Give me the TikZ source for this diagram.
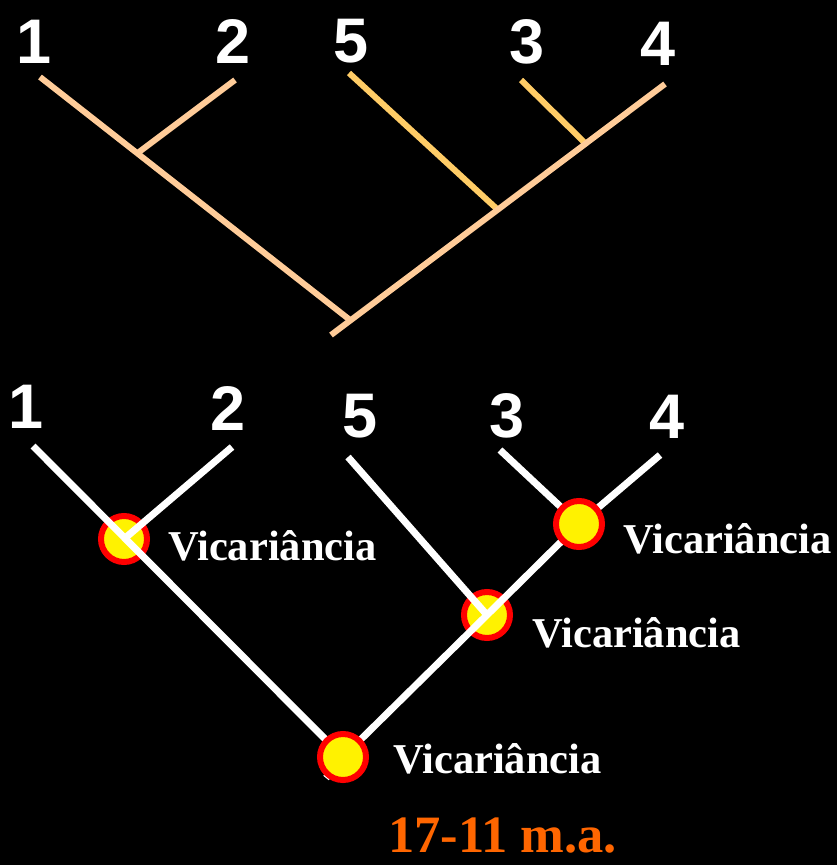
\documentclass[tikz,border=0pt]{standalone}
\usepackage{fontspec}
\setmainfont{Liberation Serif}
\newfontfamily\digitfont{Liberation Sans}
\definecolor{peach}{HTML}{FFCC99}
\definecolor{amber}{HTML}{FFCC66}
\definecolor{rust}{HTML}{FF6600}
\tikzset{
    branch/.style={draw, line width=6pt, peach}, % ramos da árvore de cima
    twig/.style={draw, line width=6pt, amber},
    wbranch/.style={draw, line width=7pt, white}, % ramos da árvore de baixo
    taxon/.style={anchor=base, inner sep=0pt, text=white, font=\digitfont\bfseries\fontsize{63}{63}\selectfont},
    event/.style={circle, draw=red, fill=yellow, line width=6pt, minimum size=46pt, inner sep=0pt},
    vic/.style={anchor=base west, inner sep=0pt, text=white, font=\bfseries\fontsize{42.5}{42.5}\selectfont}
}

\begin{document}
\begin{tikzpicture}[x=1pt, y=-1pt]
	\fill[black] (0,0) rectangle (837,865);
	\useasboundingbox (0,0) rectangle (837,865);

	% árvore de cima
	\node (a1) [taxon] at (34,63) {1};
	\node (a2) [taxon] at (233,63) {2};
	\node (a5) [taxon] at (351,62) {5};
	\node (a3) [taxon] at (527,63) {3};
	\node (a4) [taxon] at (658,65) {4};

	\coordinate (p1) at (40,77);
	\coordinate (p2) at (235,80);
	\coordinate (p5) at (349,73);
	\coordinate (p3) at (521,80);
	\coordinate (p4) at (665,84);
	\coordinate (j12) at (139,152);
	\coordinate (j34) at (585,143);
	\coordinate (j5) at (497,209);
	\coordinate (jr) at (350,320);
	\coordinate (pr) at (331,335);

	\draw[twig] (p5) -- (j5);
	\draw[twig] (p3) -- (j34);
	\draw[branch] (p2) -- (j12);
	\draw[branch] (p1) -- (jr);
	\draw[branch] (p4) -- (pr);

	% árvore de baixo
	\node (b1) [taxon] at (26,428) {1};
	\node (b2) [taxon] at (228,430) {2};
	\node (b5) [taxon] at (360,437) {5};
	\node (b3) [taxon] at (507,437) {3};
	\node (b4) [taxon] at (667,438) {4};

	\coordinate (q1) at (33,446);
	\coordinate (q2) at (232,447);
	\coordinate (q5) at (348,457);
	\coordinate (q3) at (500,450);
	\coordinate (q4) at (660,455);
	\coordinate (qr) at (326,778);

	\node (v1) [event] at (124,539) {};
	\node (v2) [event] at (487,615) {};

	\draw[wbranch] (q2) -- (v1.center);
	\draw[wbranch] (q1) -- (343,757);
	\draw[wbranch] (q5) -- (v2.center);
	\draw[wbranch] (q3) -- (579,524);
	\draw[wbranch] (q4) -- (579,524) -- (v2.center) -- (343,757) -- (qr);

	\node (v3) [event] at (579,524) {};
	\node (v4) [event] at (343,757) {};

	\node (l1) [vic] at (168,560) {Vicariância};
	\node (l3) [vic] at (623,553) {Vicariância};
	\node (l2) [vic] at (532,647) {Vicariância};
	\node (l4) [vic] at (393,773) {Vicariância};

	\node (age) [vic, text=rust, font=\bfseries\fontsize{52.5}{52.5}\selectfont] at (388,852) {17-11 m.a.};
\end{tikzpicture}
\end{document}
